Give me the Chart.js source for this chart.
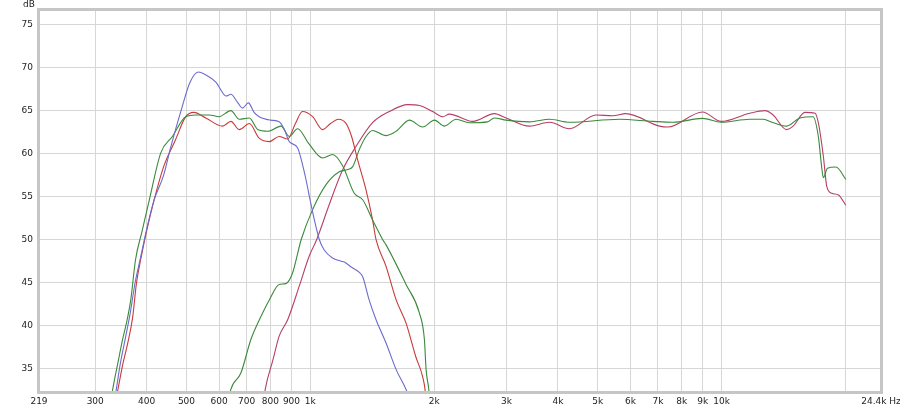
<!DOCTYPE html>
<html lang="en">
  <head>
    <meta charset="UTF-8" />
    <title>Frequency response</title>
    <script src="https://cdn.jsdelivr.net/npm/chart.js@4/dist/chart.umd.min.js"></script>
    <style>
      body { margin: 0; background: #fff; }
      #wrap { width: 900px; height: 409px; }
    </style>
  </head>
  <body>
    <div id="wrap"><canvas id="fr"></canvas></div>
    <script>
      // x tick positions (Hz) and y tick values (dB)
      var xTicks = [219, 300, 400, 500, 600, 700, 800, 900, 1000, 2000, 3000, 4000, 5000, 6000, 7000, 8000, 9000, 10000, 20000, 24400];
      var xTickLabels = ["219", "300", "400", "500", "600", "700", "800", "900", "1k", "2k", "3k", "4k", "5k", "6k", "7k", "8k", "9k", "10k", "", "24.4k Hz"];
      var yTicks = [35, 40, 45, 50, 55, 60, 65, 70, 75];

      // blue curve
      var blueHz = [330, 337, 345, 355, 365, 375, 387, 400, 417, 440, 458, 485, 510, 534, 555, 590, 624, 641, 665, 684, 707, 730, 751, 802, 840, 865, 889, 931, 960, 976, 1000, 1023, 1052, 1081, 1130, 1188, 1210, 1260, 1316, 1341, 1390, 1445, 1528, 1617, 1709, 1760];
      var blueDb = [30, 32.4, 35.5, 38.5, 41.5, 45, 48, 51.2, 54.6, 57.5, 60.8, 65, 68.3, 69.5, 69.2, 68.3, 66.7, 66.9, 66.0, 65.3, 65.9, 64.8, 64.3, 63.9, 63.7, 62.8, 61.4, 60.7, 58.5, 57, 54.5, 52.3, 50.0, 48.8, 47.9, 47.5, 47.4, 46.8, 46.2, 45.7, 43, 40.7, 38.0, 34.9, 32.6, 31];

      // first red curve
      var redHz = [332, 340, 350, 360, 370, 378, 387, 400, 417, 440, 470, 498, 521, 557, 612, 641, 672, 711, 751, 795, 840, 881, 920, 957, 1013, 1071, 1120, 1170, 1222, 1260, 1303, 1366, 1417, 1445, 1528, 1617, 1709, 1805, 1875, 1903, 1920];
      var redDb = [30, 32.4, 35.5, 38, 41, 45, 47.7, 51, 54.6, 58.5, 61.6, 64.3, 64.8, 64.15, 63.2, 63.75, 62.8, 63.5, 61.8, 61.4, 62.0, 61.7, 63.5, 64.9, 64.3, 62.8, 63.5, 64.0, 63.5, 62, 59.3, 55.8, 52.3, 50.0, 46.9, 43.0, 40.3, 36.4, 34.1, 32.4, 30];

      // first green curve
      var greenHz = [325, 330, 340, 350, 358, 366, 376, 390, 406, 433, 462, 498, 527, 568, 600, 641, 672, 711, 745, 788, 849, 889, 931, 994, 1071, 1133, 1198, 1279, 1341, 1417, 1500, 1528, 1709, 1841, 1894, 1912, 1941, 1960];
      var greenDb = [30, 32.3, 35.5, 38.5, 40.5, 43, 47.7, 51, 54.6, 60.1, 62, 64.3, 64.5, 64.5, 64.3, 65.0, 64.0, 64.15, 62.8, 62.6, 63.2, 62.0, 62.9, 61.1, 59.5, 59.9, 58.6, 55.4, 54.65, 52.3, 50.0, 49.4, 44.8, 41.5, 38.4, 34.9, 32.6, 30];

      // second green curve
      var green2Hz = [620, 641, 678, 717, 759, 795, 840, 872, 905, 950, 1013, 1092, 1176, 1222, 1268, 1316, 1366, 1417, 1528, 1617, 1742, 1875, 2004, 2118, 2262, 2437, 2697, 2802, 2992, 3409, 3816, 4265, 5640, 6800, 7617, 8986, 9963, 11700, 12620, 13100, 14380, 15500, 16680, 17180, 17500, 17670, 18080, 18960, 20050];
      var green2Db = [29, 32.6, 34.5, 38.4, 41.1, 43.0, 44.8, 44.9, 46.1, 50.0, 53.5, 56.4, 57.9, 58.1, 58.5, 60.5, 62.0, 62.7, 62.1, 62.6, 63.9, 63.1, 63.9, 63.2, 64.0, 63.6, 63.7, 64.15, 63.9, 63.7, 64.0, 63.65, 64.0, 63.75, 63.65, 64.1, 63.65, 64.0, 64.0, 63.75, 63.2, 64.15, 64.3, 62.0, 58.5, 57.2, 58.3, 58.45, 57.0];

      // second red (pink) curve
      var pinkHz = [760, 777, 811, 840, 881, 940, 994, 1036, 1112, 1198, 1290, 1417, 1556, 1725, 1841, 1983, 2101, 2178, 2483, 2802, 2992, 3409, 3816, 4265, 4947, 5432, 5850, 7063, 7400, 8986, 9963, 11700, 12740, 13340, 14380, 14920, 15940, 16870, 17180, 17670, 18010, 18530, 19230, 20050];
      var pinkDb = [29, 32.6, 36.0, 38.8, 40.7, 44.6, 48.1, 50.0, 54.1, 58.1, 60.8, 63.6, 64.9, 65.7, 65.6, 64.9, 64.3, 64.6, 63.75, 64.65, 64.15, 63.2, 63.65, 62.9, 64.5, 64.4, 64.65, 63.2, 63.1, 64.85, 63.75, 64.7, 65.0, 64.5, 62.8, 63.2, 64.8, 64.7, 63.6, 59.7, 56.2, 55.4, 55.2, 54.0];

      function pts(xs, ys) {
        return xs.map(function (x, i) { return { x: x, y: ys[i] }; });
      }

      function line(data, color) {
        return {
          data: data,
          borderColor: color,
          borderWidth: 1.1,
          pointRadius: 0,
          fill: false,
          cubicInterpolationMode: "monotone",
        };
      }

      var tickFont = { family: "DejaVu Sans", size: 9 };

      // frame round the plot and the "dB" unit label
      var framePlugin = {
        id: "frame",
        afterDraw: function (chart) {
          var a = chart.chartArea;
          var ctx = chart.ctx;
          ctx.save();
          ctx.strokeStyle = "#c6c6c6";
          ctx.lineWidth = 3;
          ctx.strokeRect(a.left - 0.5, a.top - 0.5, a.right - a.left + 1, a.bottom - a.top + 1);
          ctx.fillStyle = "#222";
          ctx.font = "9px 'DejaVu Sans'";
          ctx.textAlign = "center";
          ctx.textBaseline = "middle";
          ctx.fillText("dB", 29, 5);
          ctx.restore();
        },
      };

      new Chart(document.getElementById("fr"), {
        type: "line",
        data: {
          datasets: [
            line(pts(blueHz, blueDb), "#6b6bd0"),
            line(pts(greenHz, greenDb), "#3a8a3a"),
            line(pts(redHz, redDb), "#c83a3a"),
            line(pts(green2Hz, green2Db), "#3a8a3a"),
            line(pts(pinkHz, pinkDb), "#b53f66"),
          ],
        },
        plugins: [framePlugin],
        options: {
          responsive: true,
          maintainAspectRatio: false,
          animation: false,
          layout: { padding: { top: 10, right: 19, left: 0, bottom: 0 } },
          plugins: { legend: { display: false }, tooltip: { enabled: false } },
          scales: {
            x: {
              type: "logarithmic",
              min: 219,
              max: 24400,
              afterBuildTicks: function (s) {
                s.ticks = xTicks.map(function (v) { return { value: v }; });
              },
              afterFit: function (s) {
                s.height = 17;
                s.paddingLeft = 0;
                s.paddingRight = 0;
              },
              grid: { color: "#d6d6d6", drawTicks: false },
              border: { display: false },
              ticks: {
                autoSkip: false,
                maxRotation: 0,
                padding: 4,
                color: "#222",
                font: tickFont,
                callback: function (v, i) { return xTickLabels[i]; },
              },
            },
            y: {
              min: 32.3,
              max: 76.7,
              afterBuildTicks: function (s) {
                s.ticks = yTicks.map(function (v) { return { value: v }; });
              },
              afterFit: function (s) {
                s.width = 39;
                s.paddingTop = 0;
                s.paddingBottom = 0;
              },
              grid: { color: "#d6d6d6", drawTicks: false },
              border: { display: false },
              ticks: { padding: 6, color: "#222", font: tickFont },
            },
          },
        },
      });
    </script>
  </body>
</html>
